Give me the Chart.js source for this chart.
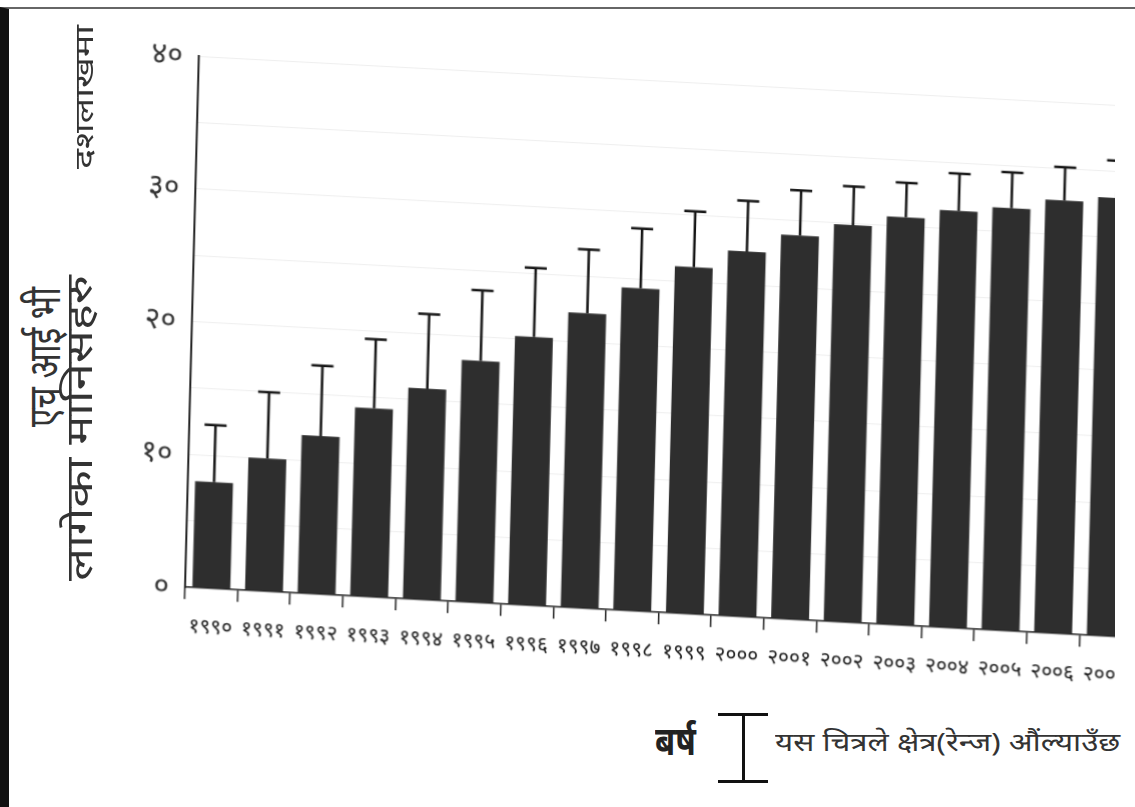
<!DOCTYPE html>
<html>
<head>
<meta charset="utf-8">
<script src="https://cdn.jsdelivr.net/npm/chart.js@4"></script>
<style>
    body { margin: 0; background: #fff; font-family: "Noto Sans", "Lohit Devanagari", sans-serif; }
    #frame { position: absolute; left: 0; top: 7px; width: 1135px; height: 800px;
             border-left: 9px solid #111; border-top: 2px solid #666; box-sizing: border-box; }
    #clip { position: absolute; left: 0; top: 0; width: 1115px; height: 700px; overflow: hidden; }
    #sheet { position: absolute; left: 0; top: 0; width: 1200px; height: 700px;
             transform-origin: 185px 587px; transform: matrix(1, 0.0533, -0.026, 1, 0, 0); }
    #box { position: absolute; left: 100px; top: 22px; width: 1042px; height: 625px; }
    .vt { position: absolute; white-space: nowrap; color: #333; text-align: center; }
</style>
</head>
<body>
<div id="frame"></div>
<div id="clip">
    <div id="sheet">
        <div id="box"><canvas id="hivChart"></canvas></div>
    </div>
</div>
<div class="vt" style="left:-57px; top:335px; width:200px; height:44px; line-height:44px; font-size:44px; transform:rotate(-90deg) scaleX(0.76);">एच आई भी</div>
<div class="vt" style="left:-92px; top:405px; width:340px; height:46px; line-height:46px; font-size:37px; transform:rotate(-90deg) scaleX(1.32);">लागेका मानिसहरु</div>
<div class="vt" style="left:-17px; top:79px; width:200px; height:36px; line-height:36px; font-size:26px; transform:rotate(-90deg) scaleX(1.45);">दशलाखमा</div>
<div style="position:absolute; left:655px; top:712px; font-size:40px; font-weight:bold; color:#222; transform:scaleX(0.82); transform-origin:left top;">बर्ष</div>
<div style="position:absolute; left:718px; top:713px; width:50px; height:3px; background:#111;"></div>
<div style="position:absolute; left:742px; top:713px; width:3px; height:70px; background:#111;"></div>
<div style="position:absolute; left:718px; top:780px; width:50px; height:3px; background:#111;"></div>
<div style="position:absolute; left:775px; top:724px; font-size:25px; color:#333; white-space:nowrap; transform:scaleX(1.25); transform-origin:left top;">यस चित्रले क्षेत्र(रेन्ज) औंल्याउँछ</div>
<script>
// years on the x axis (Nepali digits)
const years = ['१९९०', '१९९१', '१९९२', '१९९३', '१९९४', '१९९५', '१९९६', '१९९७', '१९९८',
               '१९९९', '२०००', '२००१', '२००२', '२००३', '२००४', '२००५', '२००६', '२००७'];
// people living with HIV, millions
const hivCases = [8.0, 10.0, 11.9, 14.2, 15.9, 18.2, 20.2, 22.2, 24.3,
                  26.1, 27.5, 28.9, 29.9, 30.7, 31.4, 31.8, 32.6, 33.0];
// top of the range bar
const rangeHigh = [12.3, 15.0, 17.2, 19.4, 21.5, 23.5, 25.4, 27.0, 28.8,
                   30.3, 31.3, 32.3, 32.8, 33.3, 34.2, 34.5, 35.1, 35.8];
const yTickLabels = { 0: '०', 10: '१०', 20: '२०', 30: '३०', 40: '४०' };

const devFont = '"Noto Sans", "Lohit Devanagari", sans-serif';

// range bars drawn on top of each column
const rangePlugin = {
    id: 'rangeBars',
    afterDatasetsDraw(chart) {
        const ctx = chart.ctx;
        const meta = chart.getDatasetMeta(0);
        const yScale = chart.scales.y;
        ctx.save();
        ctx.strokeStyle = '#151515';
        ctx.lineWidth = 2.5;
        meta.data.forEach(function(bar, i) {
            const top = yScale.getPixelForValue(rangeHigh[i]);
            ctx.beginPath();
            ctx.moveTo(bar.x, bar.y);
            ctx.lineTo(bar.x, top);
            ctx.moveTo(bar.x - 11, top);
            ctx.lineTo(bar.x + 11, top);
            ctx.stroke();
        });
        ctx.restore();
    }
};

document.addEventListener('DOMContentLoaded', function() {
    const ctx = document.getElementById('hivChart').getContext('2d');
    new Chart(ctx, {
        type: 'bar',
        data: {
            labels: years,
            datasets: [{
                data: hivCases,
                backgroundColor: '#2e2e2e',
                borderWidth: 0,
                barPercentage: 0.9,
                categoryPercentage: 0.8
            }]
        },
        options: {
            responsive: true,
            maintainAspectRatio: false,
            animation: false,
            layout: { padding: { top: 0, right: 10, left: 0, bottom: 0 } },
            plugins: {
                legend: { display: false },
                tooltip: { enabled: false }
            },
            scales: {
                x: {
                    afterFit: function(scale) { scale.height = 60; },
                    grid: {
                        offset: true,
                        drawOnChartArea: false,
                        drawTicks: true,
                        tickLength: 12,
                        color: '#222',
                        lineWidth: 1.5
                    },
                    border: { display: true, color: '#222', width: 1.5 },
                    ticks: {
                        color: '#1a1a1a',
                        padding: 14,
                        maxRotation: 0,
                        autoSkip: false,
                        font: { family: devFont, size: 21 }
                    }
                },
                y: {
                    min: 0,
                    max: 40,
                    afterFit: function(scale) { scale.width = 85; },
                    grid: {
                        drawTicks: false,
                        color: 'rgba(0, 0, 0, 0.07)',
                        lineWidth: 1
                    },
                    border: { display: true, color: '#222', width: 2 },
                    ticks: {
                        stepSize: 5,
                        padding: 16,
                        color: '#333',
                        font: { family: devFont, size: 30 },
                        callback: function(value) {
                            return yTickLabels[value] !== undefined ? yTickLabels[value] : '';
                        }
                    }
                }
            }
        },
        plugins: [rangePlugin]
    });
});
</script>
</body>
</html>
